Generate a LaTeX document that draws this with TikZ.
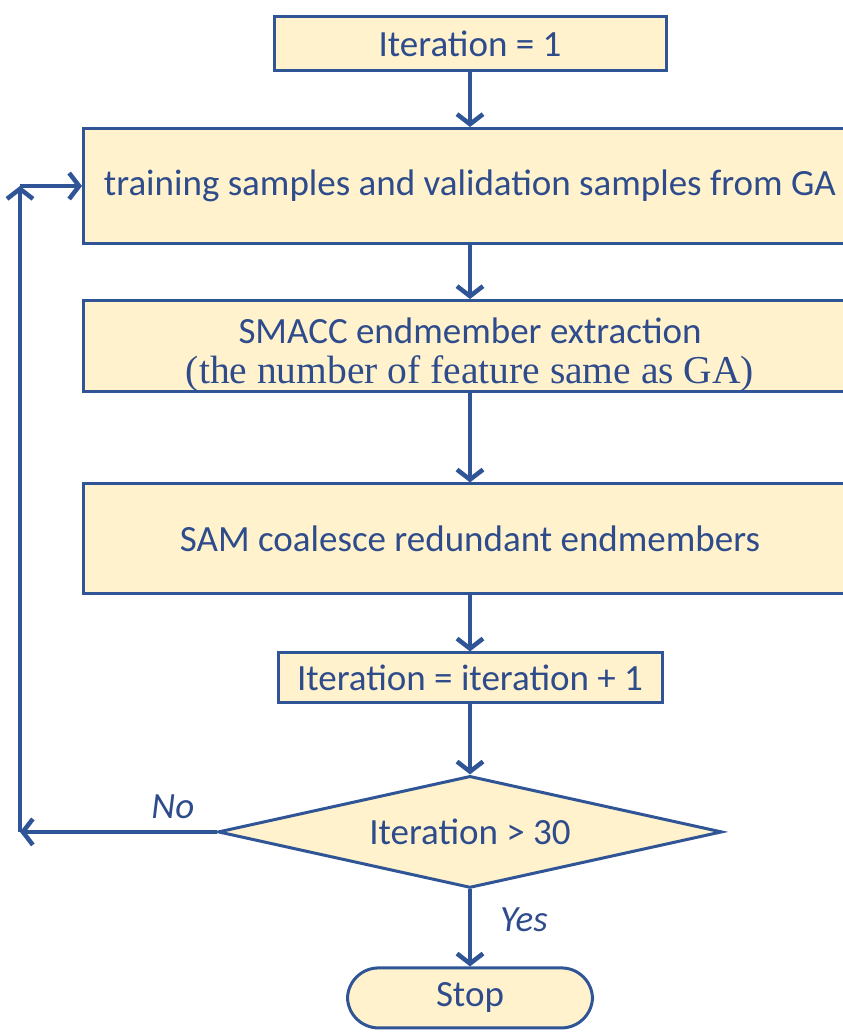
\documentclass[tikz,border=0pt]{standalone}
\usepackage{fontspec}
\setmainfont{Carlito}
\newfontfamily\serifline{Liberation Serif}
\usepackage{tikz}
\usetikzlibrary{positioning, calc, shapes.geometric, arrows.meta}
\usepackage{xcolor}
\definecolor{lineblue}{HTML}{2F5597}
\definecolor{textblue}{HTML}{2E4C8C}
\definecolor{boxfill}{HTML}{FFF2CC}
\tikzstyle{Box} = [
draw=lineblue, line width=3pt, fill=boxfill, text=textblue,
font=\fontsize{37}{46}\selectfont, align=center, inner sep=0pt]
\tikzstyle{Check} = [
Box, diamond, aspect=4.4, minimum width=504pt, minimum height=112pt]
\tikzstyle{Label} = [
text=textblue, font=\fontsize{37}{46}\selectfont\itshape, inner sep=0pt]
\tikzstyle{Arrow} = [
draw=lineblue, line width=4.5pt,
-{Straight Barb[length=10pt, width=26pt]}]

\begin{document}
\begin{tikzpicture}[x=1pt, y=-1pt]
    \useasboundingbox (0,0) rectangle (843,1036);
    \node [Box, minimum width=392pt, minimum height=54pt] (init) at (470,43.5) {Iteration = 1};
    \node [Box, minimum width=773pt, minimum height=115pt, below=55pt of init] (train)
        {training samples and validation samples from GA};
    \node [Box, minimum width=773pt, minimum height=89pt, below=54pt of train] (smacc)
        {\rule{0pt}{43pt}SMACC endmember extraction\\[-6pt]{\serifline\fontsize{39.5}{46}\selectfont (the number of feature same as GA)}};
    \node [Box, minimum width=773pt, minimum height=110pt, below=89pt of smacc] (sam)
        {SAM coalesce redundant endmembers};
    \node [Box, minimum width=384pt, minimum height=50pt, below=56pt of sam] (incr)
        {Iteration = iteration + 1};
    \node [Check, below=70pt of incr] (check) {Iteration > 30};
    \node [Box, rounded corners=31pt, minimum width=245pt, minimum height=60pt,
        below=77pt of check] (stop) {Stop};

    \coordinate (loopT) at ([xshift=-62pt]train.west);
    \coordinate (loopB) at (loopT |- check.west);
    \coordinate (yesmid) at ($(check.south)!0.4!(stop.north)$);

    \draw[Arrow] (init) -- (train);
    \draw[Arrow] (train) -- (smacc);
    \draw[Arrow] (smacc) -- (sam);
    \draw[Arrow] (sam) -- (incr);
    \draw[Arrow] (incr) -- (check);
    \draw[Arrow] (check) -- (stop);
    \draw[Arrow] (check.west) -- (loopB);
    \draw[Arrow] (loopB) -- (loopT);
    \draw[Arrow] (loopT) -- (train.west);

    \node [Label, above left=13pt and 22pt of check.west, anchor=south east] (no) {No};
    \node [Label, right=30pt of yesmid] (yes) {Yes};
\end{tikzpicture}
\end{document}
